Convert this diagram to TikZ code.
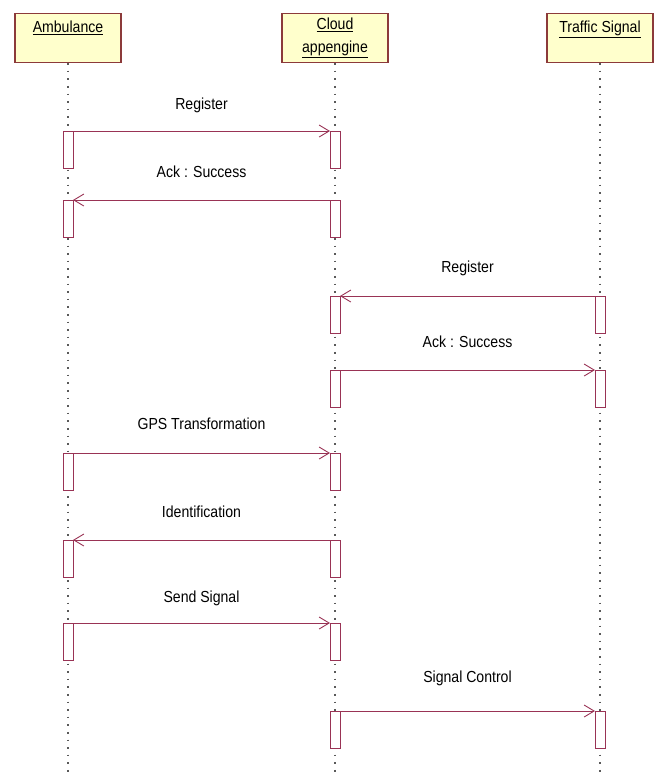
\documentclass[tikz,border=0pt]{standalone}
\usepackage{fontspec}
\setmainfont{Liberation Sans}[FakeStretch=0.88]
\usetikzlibrary{arrows.meta}
\definecolor{umlred}{HTML}{993355}
\definecolor{umlbox}{HTML}{FFFFCC}
\definecolor{umledge}{HTML}{8C3A3A}
\begin{document}
\begin{tikzpicture}[x=1pt,y=-1pt,
    head/.style={draw=umledge,fill=umlbox,line width=1.1pt,minimum width=106pt,minimum height=49pt,align=center,anchor=north,inner sep=2pt},
    life/.style={gray!70!black,line width=1.4pt,dash pattern=on 1.6pt off 6pt},
    actbar/.style={draw=umlred,fill=white,line width=0.9pt,minimum width=10pt,minimum height=37pt,inner sep=0pt,anchor=north},
    msg/.style={umlred,line width=0.9pt,-{Straight Barb[length=10pt,width=12pt]}},
    every node/.style={font=\fontsize{16}{23}\selectfont}]
  \useasboundingbox (0,0) rectangle (660,774);
  % heads and lifelines
  \foreach \n/\x/\t in {amb/68/{\underline{Ambulance}\\ \mbox{}},
      cloud/335/{\underline{Cloud}\\ \underline{appengine}},
      sig/600/{\underline{Traffic Signal}\\ \mbox{}}}{
    \node[head] (\n) at (\x,13) {\t};
    \coordinate (\n end) at (\x,774);
    \draw[life] (\n) -- (\n end);
  }
  % the messages
  \foreach \k/\ya/\yl/\xs/\xr/\l in {1/131/109/68/335/Register,
      2/200/177/335/68/{Ack : Success},
      3/296/272/600/335/Register,
      4/370/347/335/600/{Ack : Success},
      5/453/429/68/335/{GPS Transformation},
      6/540/517/335/68/Identification,
      7/623/602/68/335/{Send Signal},
      8/711/682/335/600/{Signal Control}}{
    \node[actbar] (s\k) at (\xs,\ya) {};
    \node[actbar] (r\k) at (\xr,\ya) {};
    \node[anchor=base] (l\k) at ({(\xs+\xr)/2},\yl) {\l};
    \draw[msg,shorten <=5pt,shorten >=5pt] (s\k.north) -- (r\k.north);
  }
\end{tikzpicture}
\end{document}
